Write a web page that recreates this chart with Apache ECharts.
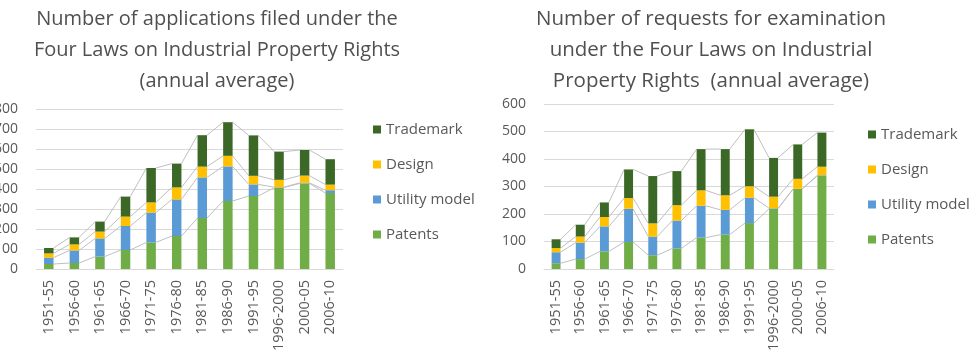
<!DOCTYPE html>
<html>
<head>
<meta charset="utf-8">
<script src="https://cdn.jsdelivr.net/npm/echarts@6/dist/echarts.min.js"></script>
<style>
  html, body { margin: 0; padding: 0; background: #fff; }
  #chart { width: 976px; height: 360px; }
</style>
</head>
<body>
<div id="chart"></div>
<script>
// periods (categories)
const periods = ['1951-55', '1956-60', '1961-65', '1966-70', '1971-75', '1976-80',
  '1981-85', '1986-90', '1991-95', '1996-2000', '2000-05', '2006-10'];

// applications filed (thousands, annual average)
const appPatents = [25, 30, 62, 95, 133, 165, 255, 340, 365, 407, 428, 380];
const appUtility = [32, 63, 91, 120, 149, 183, 203, 173, 58, 2, 3, 14];
const appDesign = [21, 30, 34, 47, 51, 60, 54, 53, 43, 37, 36, 28];
const appTrademark = [27, 35, 50, 100, 172, 119, 157, 168, 202, 141, 128, 127];

// requests for examination (thousands, annual average)
const reqPatents = [21, 36, 64, 98, 50, 75, 114, 125, 167, 219, 291, 339];
const reqUtility = [40, 60, 91, 121, 68, 101, 116, 90, 92, 2, 1, 2];
const reqDesign = [15, 22, 34, 39, 48, 56, 56, 53, 42, 42, 36, 31];
const reqTrademark = [32, 43, 53, 104, 172, 124, 150, 168, 207, 141, 125, 124];

const seriesNames = ['Patents', 'Utility model', 'Design', 'Trademark'];
const colors = ['#70AD47', '#5B9BD5', '#FFC000', '#3B6826'];
const barWidthRatio = 0.37;
const textColor = '#595959';
const fontFamily = '"Open Sans", "Noto Sans", sans-serif';

// running totals for the series lines between bars
function cumulative(parts) {
  const out = [];
  let run = periods.map(() => 0);
  parts.forEach((arr) => {
    run = run.map((v, i) => v + arr[i]);
    out.push(run.slice());
  });
  return out;
}

function seriesLines(parts, axisIndex) {
  return cumulative(parts).map((tops) => ({
    type: 'custom',
    xAxisIndex: axisIndex,
    yAxisIndex: axisIndex,
    silent: true,
    z: 1,
    data: tops.slice(0, -1).map((v, i) => [i, v, tops[i + 1]]),
    renderItem: (params, api) => {
      const i = api.value(0);
      const p1 = api.coord([i, api.value(1)]);
      const p2 = api.coord([i + 1, api.value(2)]);
      const half = api.size([1, 0])[0] * barWidthRatio / 2;
      return {
        type: 'line',
        shape: { x1: p1[0] + half, y1: p1[1], x2: p2[0] - half, y2: p2[1] },
        style: { stroke: '#BFBFBF', lineWidth: 1 },
      };
    },
  }));
}

function bars(parts, axisIndex, stack) {
  return parts.map((arr, k) => ({
    name: seriesNames[k],
    type: 'bar',
    stack: stack,
    xAxisIndex: axisIndex,
    yAxisIndex: axisIndex,
    barWidth: barWidthRatio * 100 + '%',
    itemStyle: { color: colors[k] },
    z: 2,
    data: arr,
  }));
}

const appParts = [appPatents, appUtility, appDesign, appTrademark];
const reqParts = [reqPatents, reqUtility, reqDesign, reqTrademark];

const xAxisBase = {
  type: 'category',
  data: periods,
  axisLine: { lineStyle: { color: '#D9D9D9' } },
  axisTick: { show: false },
  axisLabel: { rotate: 90, color: textColor, fontSize: 14.5, fontFamily, margin: 11 },
};

const yAxisBase = {
  type: 'value',
  min: 0,
  interval: 100,
  axisLine: { show: false },
  axisTick: { show: false },
  splitLine: { lineStyle: { color: '#D9D9D9' } },
  axisLabel: { color: textColor, fontSize: 14, fontFamily, margin: 18 },
};

const legendBase = {
  orient: 'vertical',
  icon: 'rect',
  itemWidth: 8,
  itemHeight: 8,
  itemGap: 20,
  data: ['Trademark', 'Design', 'Utility model', 'Patents'],
  textStyle: { color: textColor, fontSize: 15, fontFamily },
};

const titleStyle = { color: '#505050', fontSize: 20, fontWeight: 'normal', fontFamily, lineHeight: 31 };

const option = {
  animation: false,
  title: [
    {
      text: 'Number of applications filed under the\nFour Laws on Industrial Property Rights\n(annual average)',
      left: 212, top: -1, textAlign: 'center', textStyle: titleStyle,
    },
    {
      text: 'Number of requests for examination\nunder the Four Laws on Industrial\nProperty Rights  (annual average)',
      left: 706, top: -1, textAlign: 'center',
      textStyle: Object.assign({}, titleStyle, { fontSize: 20.5 }),
    },
  ],
  legend: [
    Object.assign({ left: 368, top: 117 }, legendBase),
    Object.assign({ left: 863, top: 122 }, legendBase),
  ],
  grid: [
    { left: 36, right: 633, top: 109, bottom: 91, outerBoundsMode: 'none' },
    { left: 544, right: 142, top: 104, bottom: 91, outerBoundsMode: 'none' },
  ],
  xAxis: [
    Object.assign({ gridIndex: 0 }, xAxisBase),
    Object.assign({ gridIndex: 1 }, xAxisBase),
  ],
  yAxis: [
    Object.assign({ gridIndex: 0, max: 800 }, yAxisBase),
    Object.assign({ gridIndex: 1, max: 600 }, yAxisBase),
  ],
  series: [
    ...bars(appParts, 0, 'app'),
    ...seriesLines(appParts, 0),
    ...bars(reqParts, 1, 'req'),
    ...seriesLines(reqParts, 1),
  ],
};

const chart = echarts.init(document.getElementById('chart'));
chart.setOption(option);
</script>
</body>
</html>
